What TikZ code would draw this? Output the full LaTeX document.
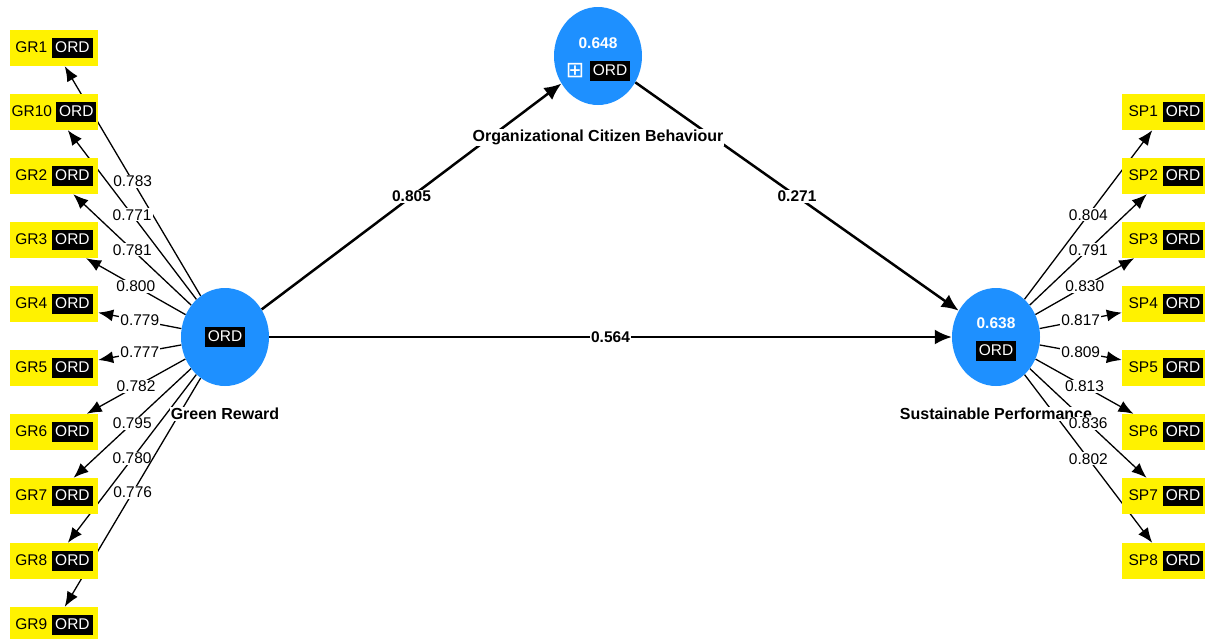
\documentclass[tikz,border=0pt]{standalone}
\usepackage{fontspec}
\setmainfont{Liberation Sans}
\newfontfamily\symfont{DejaVu Sans}
\usetikzlibrary{arrows.meta,positioning,shapes.geometric}
\pgfdeclarelayer{background}
\pgfsetlayers{background,main}
\definecolor{plsblue}{RGB}{30,144,255}
\newcommand{\ordtag}{{\fboxsep=3pt\colorbox{black}{\rule[-3pt]{0pt}{14pt}\textcolor{white}{ORD}}}}

\begin{document}
\begin{tikzpicture}[x=1pt, y=-1pt, > = {Latex[length=15pt,width=12pt]}, font=\fontsize{15.5}{18}\selectfont]
                \tikzstyle{latent}=[ellipse, fill=plsblue, inner sep=0pt, minimum width=88pt, minimum height=98pt]
                \tikzstyle{indicator}=[rectangle, fill=yellow, inner sep=0pt, minimum width=88pt, minimum height=36pt]
                \tikzstyle{loading}=[->, line width=1.3pt]
                \tikzstyle{structural}=[->, line width=2.5pt, > = {Latex[length=17pt,width=15pt]}]
                \tikzstyle{coef}=[fill=white, inner sep=1pt]
                \tikzstyle{lvname}=[fill=white, inner sep=1pt, font=\fontsize{16}{19}\selectfont\bfseries]

                    \useasboundingbox (0,0) rectangle (1205,638);

                    % Latentes
                    \node[latent] (gr) at (225,337) {};
                    \node[latent] (ocb) at (598,56) {};
                    \node[latent] (sp) at (996,337) {};

                    \node[text=white] at (ocb) [yshift=13pt] {\bfseries 0.648};
                    \node[text=white, inner sep=0pt] at (ocb) [xshift=-23pt, yshift=-15pt] {\fontsize{22}{22}\symfont ⊞};
                    \node[inner sep=0pt] at (ocb) [xshift=12pt, yshift=-15pt] {\ordtag};
                    \node[inner sep=0pt] at (gr) {\ordtag};
                    \node[text=white] at (sp) [yshift=14pt] {\bfseries 0.638};
                    \node[inner sep=0pt] at (sp) [yshift=-14pt] {\ordtag};

                    % Indicadores
                    \node[indicator] (gr1) at (54,48) {GR1\hspace{5pt}\ordtag};
                    \node[indicator] (gr10) at (54,112) {GR10\hspace{4pt}\ordtag};
                    \node[indicator] (gr2) at (54,176) {GR2\hspace{5pt}\ordtag};
                    \node[indicator] (gr3) at (54,240) {GR3\hspace{5pt}\ordtag};
                    \node[indicator] (gr4) at (54,304) {GR4\hspace{5pt}\ordtag};
                    \node[indicator] (gr5) at (54,368) {GR5\hspace{5pt}\ordtag};
                    \node[indicator] (gr6) at (54,432) {GR6\hspace{5pt}\ordtag};
                    \node[indicator] (gr7) at (54,496) {GR7\hspace{5pt}\ordtag};
                    \node[indicator] (gr8) at (54,561) {GR8\hspace{5pt}\ordtag};
                    \node[indicator] (gr9) at (54,625) {GR9\hspace{5pt}\ordtag};

                    \node[indicator] (sp1) at (1166,112) {SP1\hspace{5pt}\ordtag};
                    \node[indicator] (sp2) at (1166,176) {SP2\hspace{5pt}\ordtag};
                    \node[indicator] (sp3) at (1166,240) {SP3\hspace{5pt}\ordtag};
                    \node[indicator] (sp4) at (1166,304) {SP4\hspace{5pt}\ordtag};
                    \node[indicator] (sp5) at (1166,368) {SP5\hspace{5pt}\ordtag};
                    \node[indicator] (sp6) at (1166,432) {SP6\hspace{5pt}\ordtag};
                    \node[indicator] (sp7) at (1166,496) {SP7\hspace{5pt}\ordtag};
                    \node[indicator] (sp8) at (1166,561) {SP8\hspace{5pt}\ordtag};

                    % Nomes
                    \node[lvname] at (ocb) [below=73pt] {Organizational Citizen Behaviour};
                    \node[lvname] at (gr) [below=70pt] {Green Reward};
                    \node[lvname] at (sp) [below=70pt] {Sustainable Performance};

                    \begin{pgfonlayer}{background}
                    % Caminhos
                    \draw[structural] (gr) -- node[coef] {\bfseries 0.805} (ocb);
                    \draw[structural] (ocb) -- node[coef] {\bfseries 0.271} (sp);
                    \draw[structural] (gr) -- node[coef] {\bfseries 0.564} (sp);

                    % Cargas
                    \draw[loading] (gr) -- node[coef] {0.783} (gr1);
                    \draw[loading] (gr) -- node[coef] {0.771} (gr10);
                    \draw[loading] (gr) -- node[coef] {0.781} (gr2);
                    \draw[loading] (gr) -- node[coef] {0.800} (gr3);
                    \draw[loading] (gr) -- node[coef] {0.779} (gr4);
                    \draw[loading] (gr) -- node[coef] {0.777} (gr5);
                    \draw[loading] (gr) -- node[coef] {0.782} (gr6);
                    \draw[loading] (gr) -- node[coef] {0.795} (gr7);
                    \draw[loading] (gr) -- node[coef] {0.780} (gr8);
                    \draw[loading] (gr) -- node[coef] {0.776} (gr9);

                    \draw[loading] (sp) -- node[coef] {0.804} (sp1);
                    \draw[loading] (sp) -- node[coef] {0.791} (sp2);
                    \draw[loading] (sp) -- node[coef] {0.830} (sp3);
                    \draw[loading] (sp) -- node[coef] {0.817} (sp4);
                    \draw[loading] (sp) -- node[coef] {0.809} (sp5);
                    \draw[loading] (sp) -- node[coef] {0.813} (sp6);
                    \draw[loading] (sp) -- (sp7);
                    \draw[loading] (sp) -- node[coef] {0.802} (sp8);
                    \end{pgfonlayer}

                    % rotulo por cima do nome
                    \path (sp) -- node[coef] {0.836} (sp7);
            \end{tikzpicture}
\end{document}
